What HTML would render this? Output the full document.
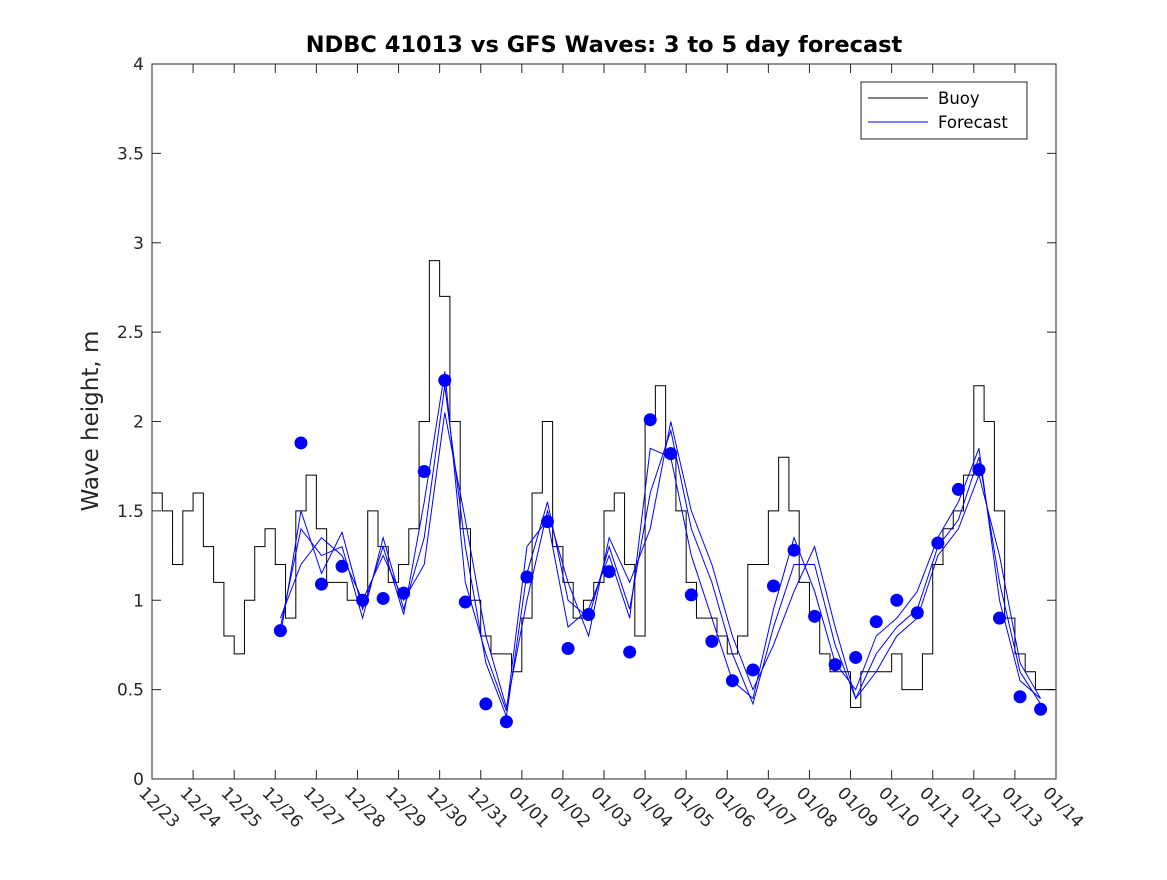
<!DOCTYPE html>
<html><head><meta charset="utf-8"><style>
body{margin:0;background:#fff;}
svg text{font-family:"DejaVu Sans","Liberation Sans",sans-serif;fill:#262626;}
</style></head><body>
<svg id="chart" width="1167" height="875" xmlns="http://www.w3.org/2000/svg">
<rect width="1167" height="875" fill="#fff"/>
<text x="604" y="52" text-anchor="middle" font-size="22.5" font-weight="bold" style="fill:#000">NDBC 41013 vs GFS Waves: 3 to 5 day forecast</text>
<text transform="translate(98,421) rotate(-90)" text-anchor="middle" font-size="23">Wave height, m</text>
<g id="plot"></g>
<rect x="152" y="64" width="904" height="715" fill="none" stroke="#262626" stroke-width="1"/>
<g>
<rect x="861" y="82" width="166" height="57" fill="#fff" stroke="#262626"/>
<line x1="868" y1="98" x2="928" y2="98" stroke="#000"/>
<text x="938" y="104" font-size="16.5" style="fill:#000">Buoy</text>
<line x1="868" y1="122" x2="928" y2="122" stroke="#0000ff"/>
<text x="938" y="128" font-size="16.5" style="fill:#000">Forecast</text>
</g>
</svg>
<script>
const xLabels=["12/23","12/24","12/25","12/26","12/27","12/28","12/29","12/30","12/31","01/01","01/02","01/03","01/04","01/05","01/06","01/07","01/08","01/09","01/10","01/11","01/12","01/13","01/14"];
const yTicks=[0,0.5,1,1.5,2,2.5,3,3.5,4];
const yTickLabels=["0","0.5","1","1.5","2","2.5","3","3.5","4"];
const buoyStep=0.25;
const buoyValues=[1.6,1.5,1.2,1.5,1.6,1.3,1.1,0.8,0.7,1.0,1.3,1.4,1.2,0.9,1.5,1.7,1.4,1.1,1.1,1.0,1.0,1.5,1.3,1.1,1.2,1.4,2.0,2.9,2.7,2.0,1.4,1.0,0.8,0.7,0.7,0.6,0.9,1.6,2.0,1.3,1.1,0.9,1.0,1.1,1.5,1.6,1.2,0.8,2.0,2.2,1.8,1.5,1.1,0.9,0.9,0.8,0.7,0.8,1.2,1.2,1.5,1.8,1.5,1.1,0.9,0.7,0.6,0.6,0.4,0.6,0.6,0.6,0.7,0.5,0.5,0.7,1.2,1.4,1.5,1.7,2.2,2.0,1.5,0.9,0.7,0.6,0.5,0.5,0.5];
const fcStart=3.125;
const fcStep=0.5;
const dotValues=[0.83,1.88,1.09,1.19,1.0,1.01,1.04,1.72,2.23,0.99,0.42,0.32,1.13,1.44,0.73,0.92,1.16,0.71,2.01,1.82,1.03,0.77,0.55,0.61,1.08,1.28,0.91,0.64,0.68,0.88,1.0,0.93,1.32,1.62,1.73,0.9,0.46,0.39];
const fc1=[0.80,1.50,1.15,1.38,0.95,1.30,0.92,1.55,2.28,1.10,0.70,0.38,1.30,1.45,0.85,0.95,1.25,0.90,1.85,1.80,1.25,0.90,0.55,0.45,0.95,1.35,1.05,0.65,0.50,0.80,0.90,1.05,1.35,1.55,1.85,1.00,0.55,0.45];
const fc2=[0.85,1.40,1.25,1.30,0.90,1.35,0.95,1.35,2.20,1.30,0.65,0.35,1.15,1.55,1.00,0.90,1.30,0.95,1.60,1.95,1.40,1.10,0.70,0.42,0.85,1.20,1.20,0.75,0.45,0.70,0.85,0.95,1.30,1.45,1.80,1.10,0.60,0.42];
const fc3=[0.90,1.20,1.35,1.25,1.00,1.25,1.00,1.20,2.05,1.45,0.80,0.40,1.00,1.50,1.10,0.80,1.35,1.10,1.40,2.00,1.50,1.20,0.80,0.50,0.75,1.05,1.30,0.85,0.45,0.60,0.80,0.90,1.25,1.40,1.70,1.25,0.65,0.45];

const X0=152,X1=1056,Y0=779,Y1=64;
function xs(d){return X0+(X1-X0)*d/22;}
function ys(v){return Y0-(Y0-Y1)*v/4;}
const NS="http://www.w3.org/2000/svg";
const plot=document.getElementById('plot');
function mk(tag,attrs){const e=document.createElementNS(NS,tag);for(const k in attrs)e.setAttribute(k,attrs[k]);plot.appendChild(e);return e;}

yTicks.forEach((v,i)=>{
  const y=ys(v);
  const t=mk('line',{x1:X0,y1:y,x2:X0+9,y2:y,stroke:'#262626'});
  
  
  const t2=mk('line',{x1:X1,y1:y,x2:X1-9,y2:y,stroke:'#262626'});
  
  
  const l=mk('text',{x:X0-8,y:y+6,'text-anchor':'end','font-size':'17'});
  l.textContent=yTickLabels[i];
  
  
});
xLabels.forEach((s,i)=>{
  const x=xs(i);
  const t=mk('line',{x1:x,y1:Y0,x2:x,y2:Y0-9,stroke:'#262626'});
  
  
  const t2=mk('line',{x1:x,y1:Y1,x2:x,y2:Y1+9,stroke:'#262626'});
  
  
  const l=mk('text',{transform:`translate(${x-14},${Y0+15}) rotate(45)`,'font-size':'17'});
  l.textContent=s;
  
  
});
let d='';
buoyValues.forEach((v,i)=>{
  const x=xs(i*buoyStep),y=ys(v);
  if(i===0)d+=`M${x},${y}`;else d+=`V${y}`;
  const nx=xs(Math.min((i+1)*buoyStep,22));
  d+=`H${nx}`;
});
const bp=mk('path',{d:d,fill:'none',stroke:'#000','stroke-width':'1'});


[fc1,fc2,fc3].forEach((arr,j)=>{
  const p=mk('polyline',{points:arr.map((v,i)=>`${xs(fcStart+i*fcStep)},${ys(v)}`).join(' '),fill:'none',stroke:'#0000ff','stroke-width':'1'});
  
  
});
dotValues.forEach((v,i)=>{
  const c=mk('circle',{cx:xs(fcStart+i*fcStep),cy:ys(v),r:6.5,fill:'#0000ff'});
  
  
});
</script>
</body></html>
